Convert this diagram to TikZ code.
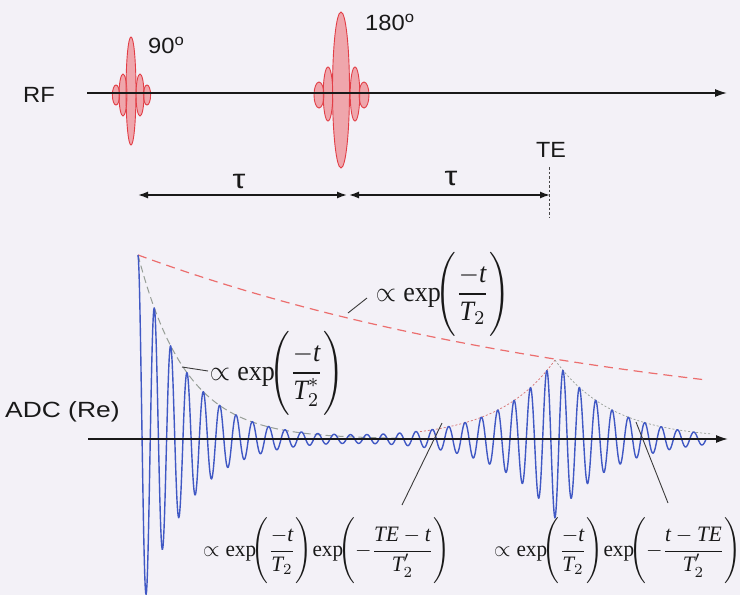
\documentclass[tikz,border=0pt]{standalone}
\usepackage{fontspec}
\usepackage{amsmath}
\usepackage{graphicx}
\setmainfont{Liberation Serif}
\newfontfamily\lsans{Liberation Sans}
\usetikzlibrary{arrows.meta}
\definecolor{bgc}{RGB}{243,241,247}
\definecolor{ink}{RGB}{25,25,25}
\definecolor{pfill}{RGB}{236,105,112}
\definecolor{pedge}{RGB}{226,62,70}
\definecolor{sigc}{RGB}{64,88,196}
\definecolor{redd}{RGB}{236,110,110}
\definecolor{grayd}{RGB}{150,158,150}
\newcommand{\iv}[1]{\textit{#1}}
\newcommand{\xp}{\exp\mkern-4mu}
\tikzset{
 axisline/.style={ink, line width=1.6pt, -{Latex[length=12pt,width=8pt]}},
 dimarrow/.style={ink, line width=1.5pt, {Latex[length=10pt,width=7pt]}-{Latex[length=10pt,width=7pt]}},
 lobe/.style={draw=pedge, line width=0.9pt, fill=pfill, fill opacity=0.55},
 sig/.style={sigc, line width=1.4pt, line join=round},
 redenv/.style={redd, line width=1.2pt, dash pattern=on 9pt off 6pt},
 grayenv/.style={grayd, line width=1.0pt, dash pattern=on 7pt off 4pt},
 echoup/.style={redd!80!gray, line width=0.7pt, dash pattern=on 2pt off 2pt},
 echodown/.style={grayd, line width=0.7pt, dash pattern=on 2pt off 2pt},
 leader/.style={ink!85, line width=0.9pt},
 tedash/.style={ink!80, line width=1pt, dash pattern=on 2.5pt off 2pt},
 lbl/.style={text=ink, font=\lsans\fontsize{22}{26}\selectfont, inner sep=0pt},
 taulbl/.style={text=ink, font=\lsans\fontsize{27}{32}\selectfont, inner sep=0pt},
 formula/.style={text=ink, inner sep=0pt},
}
\begin{document}
\begin{tikzpicture}[x=1pt,y=-1pt]
\fill[bgc] (0,0) rectangle (740,595);
\useasboundingbox (0,0) rectangle (740,595);

% ---- RF line and pulses ----
\coordinate (rfL) at (87,93);
\coordinate (rfR) at (727,93);
% 90 degree pulse
\fill[lobe] (116,95) ellipse [x radius=3.6, y radius=10];
\fill[lobe] (147,95) ellipse [x radius=3.6, y radius=10];
\fill[lobe] (123,95) ellipse [x radius=4, y radius=21];
\fill[lobe] (140,95) ellipse [x radius=4, y radius=21];
\fill[lobe] (131,91) ellipse [x radius=5, y radius=54];
% 180 degree pulse
\fill[lobe] (319,95) ellipse [x radius=5, y radius=13];
\fill[lobe] (364,95) ellipse [x radius=5, y radius=13];
\fill[lobe] (328,94) ellipse [x radius=4.8, y radius=27];
\fill[lobe] (355,94) ellipse [x radius=4.8, y radius=27];
\fill[lobe] (341,90) ellipse [x radius=8.5, y radius=78];
\draw[axisline] (rfL) -- (rfR);

\node[lbl, anchor=base west] (rf) at (23,102) {\scalebox{1.08}[1]{RF}};
\node[lbl, anchor=base west] (n90) at (148,53) {\scalebox{1.08}[1]{90\textsuperscript{o}}};
\node[lbl, anchor=base west] (n180) at (365,30) {\scalebox{1.08}[1]{180\textsuperscript{o}}};

% ---- tau dimensions ----
\coordinate (t0) at (138,195);
\coordinate (t1) at (347,195);
\coordinate (t1b) at (349,195);
\coordinate (t2) at (550,195);
\draw[dimarrow] (t0) -- (t1);
\draw[dimarrow] (t1b) -- (t2);
\node[taulbl] (tau1) at (239,181) {\scalebox{1.2}[1]{τ}};
\node[taulbl] (tau2) at (451,178) {\scalebox{1.2}[1]{τ}};
\node[lbl, anchor=base west] (te) at (536,157) {\scalebox{1.06}[1]{TE}};
\coordinate (teA) at (549,167);
\coordinate (teB) at (549,218);
\draw[tedash] (teA) -- (teB);

% ---- ADC ----
\coordinate (adL) at (88,439);
\coordinate (adR) at (728,439);
\node[lbl, anchor=base west] (adc) at (5,417) {\scalebox{1.2}[1]{ADC (Re)}};

% envelopes
\draw[redenv] plot[domain=138:706, samples=120, variable=\x] ({\x},{439-184*exp(-(\x-138)/500)});
\draw[grayenv] plot[domain=138:400, samples=120, variable=\x] ({\x},{439-184*exp(-(\x-138)/48)});
\draw[echoup] plot[domain=420:555, samples=60, variable=\x] ({\x},{439-79*exp((\x-555)/57)});
\draw[echodown] plot[domain=555:712, samples=60, variable=\x] ({\x},{439-79*exp(-(\x-555)/57)});

% signal
\draw[sig] plot[domain=138:706, samples=1200, variable=\x] ({\x},{439-cos(((\x-138)/16.35)*360)*(184*exp(-(\x-138)/48)+79*exp(-abs(\x-555)/57))});

\draw[axisline] (adL) -- (adR);

% ---- formulas ----
\node[formula] (fT2) at (443,294) {\scalebox{2.6}[2.8]{$\displaystyle\propto\xp\Biggl(\frac{-\iv{t}}{\iv{T}_2}\Biggr)$}};
\node[formula] (fT2s) at (277,373) {\scalebox{2.6}[2.8]{$\displaystyle\propto\xp\Biggl(\frac{-\iv{t}}{\iv{T}_2^{*}}\Biggr)$}};
\node[formula, anchor=west] (fL) at (203,551) {\scalebox{2.12}[2.2]{$\displaystyle\propto\xp\Biggl(\frac{-\iv{t}}{\iv{T}_2}\Biggr)\mkern-3mu\xp\Biggl(-\frac{\iv{TE}-\iv{t}}{\iv{T}'_2}\Biggr)$}};
\node[formula, anchor=west] (fR) at (494,551) {\scalebox{2.12}[2.2]{$\displaystyle\propto\xp\Biggl(\frac{-\iv{t}}{\iv{T}_2}\Biggr)\mkern-3mu\xp\Biggl(-\frac{\iv{t}-\iv{TE}}{\iv{T}'_2}\Biggr)$}};

% leaders
\coordinate (l1a) at (348,313);
\coordinate (l1b) at (367,298);
\draw[leader] (l1a) -- (l1b);
\coordinate (l2a) at (182,367);
\coordinate (l2b) at (208,371);
\draw[leader] (l2a) -- (l2b);
\coordinate (l3a) at (442,423);
\coordinate (l3b) at (402,505);
\draw[leader] (l3a) -- (l3b);
\coordinate (l4a) at (636,422);
\coordinate (l4b) at (668,503);
\draw[leader] (l4a) -- (l4b);
\end{tikzpicture}
\end{document}
